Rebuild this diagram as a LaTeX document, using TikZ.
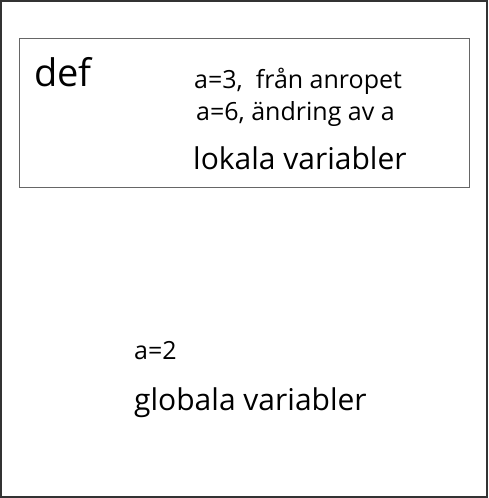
\documentclass[tikz,border=0pt]{standalone}
\usepackage{fontspec}
\setmainfont{Open Sans}
\usetikzlibrary{positioning}
\tikzset{
  txt/.style={inner sep=0pt, anchor=base west},
  big/.style={txt, font=\fontsize{38}{44}\selectfont},
  mid/.style={txt, font=\fontsize{30}{35}\selectfont},
  small/.style={txt, font=\fontsize{25}{29}\selectfont},
}
\begin{document}
\begin{tikzpicture}[x=1pt,y=-1pt]
    \useasboundingbox (0,0) rectangle (488,498);
    \draw[line width=2pt, black!80] (1,1) rectangle (487,497);
    \node(Frame) [draw=black!60, line width=1pt, inner sep=0pt, minimum width=450pt, minimum height=149pt, anchor=north west] at (19,38) {};
    \node(Def)     [big]   at (34,86)   {def};
    \node(Arg)     [small] at (194,88)  {a=3,\ \ från anropet};
    \node(Change)  [small] at (196,120) {a=6, ändring av a};
    \node(Local)   [mid]   at (193,169) {lokala variabler};
    \node(Glob)    [small] at (134,359) {a=2};
    \node(Global)  [mid]   at (134,410) {globala variabler};
  \end{tikzpicture}
\end{document}
